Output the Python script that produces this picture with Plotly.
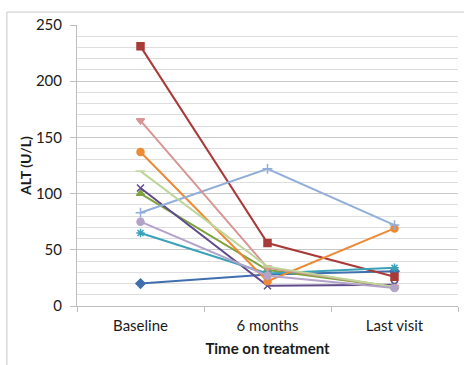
import plotly.graph_objects as go

categories = ["Baseline", "6 months", "Last visit"]

s_blue = [20, 28, 31]
s_red = [231, 56, 26]
s_olive = [100, 32, 17]
s_purple = [105, 18, 19]
s_teal = [65, 29, 34]
s_orange = [137, 22, 69]
s_lightblue = [83, 122, 72]
s_pink = [165, 34, 17]
s_lightgreen = [120, 35, 17]
s_lavender = [75, 27, 16]

series = [
    (s_blue, "#3F6FAE", "diamond"),
    (s_red, "#A83A38", "square"),
    (s_olive, "#7EA33E", "triangle-up"),
    (s_purple, "#5F4A8B", "x-thin-open"),
    (s_teal, "#3AA2B8", "asterisk-open"),
    (s_orange, "#EC8A35", "circle"),
    (s_lightblue, "#91AEDB", "cross-thin-open"),
    (s_pink, "#D99594", "triangle-down"),
    (s_lightgreen, "#BFD69A", "line-ew-open"),
    (s_lavender, "#B4A3C9", "circle"),
]

fig = go.Figure()
for vals, col, sym in series:
    fig.add_trace(go.Scatter(
        x=categories, y=vals, mode="lines+markers",
        line=dict(color=col, width=2),
        marker=dict(color=col, symbol=sym, size=7, line=dict(color=col, width=1.5)),
        showlegend=False,
    ))

fig.update_layout(
    width=464, height=365,
    margin=dict(l=77, r=6, t=25, b=59),
    paper_bgcolor="white", plot_bgcolor="white",
    font=dict(family="Lato, Liberation Sans, sans-serif", size=15, color="#1a1a1a"),
    xaxis=dict(
        type="category", range=[-0.5, 2.5],
        showgrid=False, showline=True, linecolor="#bdbdbd", linewidth=1,
        ticks="outside", tickson="boundaries", ticklen=5, tickcolor="#bdbdbd",
        tickfont=dict(size=15), ticklabelstandoff=6,
        title=dict(text="<b>Time on treatment</b>", font=dict(size=15), standoff=10),
    ),
    yaxis=dict(
        range=[0, 250], dtick=50, tick0=0,
        showgrid=True, gridcolor="#c8c8c8", gridwidth=1,
        minor=dict(dtick=10, showgrid=True, gridcolor="#dedede", gridwidth=1),
        showline=True, linecolor="#bdbdbd", linewidth=1,
        ticks="outside", ticklen=6, tickcolor="#bdbdbd",
        tickfont=dict(size=15), ticklabelstandoff=5,
        zeroline=False,
        title=dict(text="<b>ALT (U/L)</b>", font=dict(size=14), standoff=0),
    ),
    shapes=[dict(type="rect", xref="paper", yref="paper",
                 x0=-0.184, x1=1.2, y0=-0.4, y1=1.046,
                 line=dict(color="#c8c8c8", width=1), layer="below")],
)

fig.write_html("out.html")
